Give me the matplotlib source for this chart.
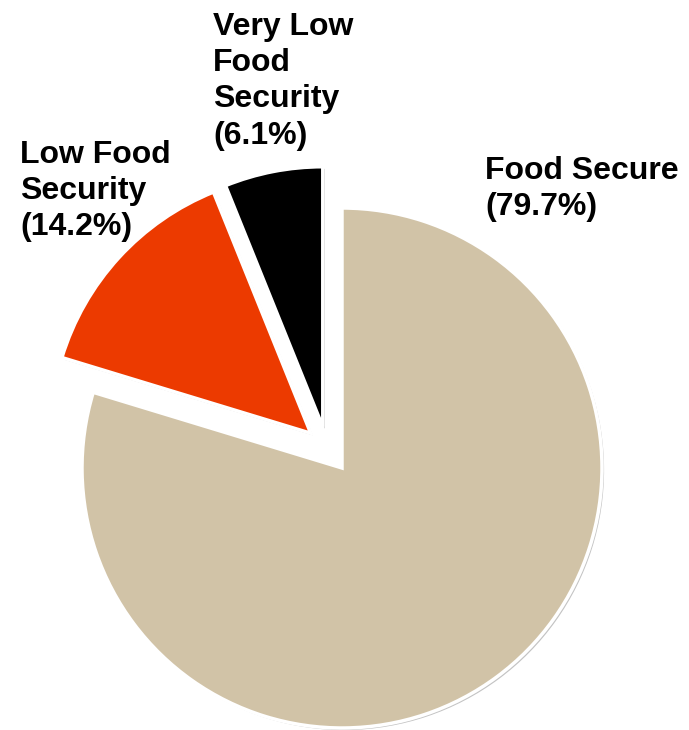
import matplotlib
matplotlib.use("Agg")
import numpy as np
import matplotlib.pyplot as plt
import matplotlib.patheffects as pe

categories = ["Food Secure", "Low Food\nSecurity", "Very Low\nFood\nSecurity"]
values = [79.7, 14.2, 6.1]
colors = ["#D1C3A7", "#EC3A00", "#000000"]

# slice offsets (fraction of radius, direction in degrees)
offset_dist = [0.0, 0.18, 0.175]
offset_dir = [0.0, 132.0, 115.0]

W, H = 689, 730
R = 260.0
cx, cy = 342, 468  # pixel center (from top-left)

fig = plt.figure(figsize=(W / 100, H / 100), dpi=100)
ax = fig.add_axes([0, 0, 1, 1])
wedges, _ = ax.pie(values, colors=colors, startangle=90,
                   counterclock=False, radius=1.0,
                   wedgeprops=dict(edgecolor="white", linewidth=2.5))
for w, d, a in zip(wedges, offset_dist, offset_dir):
    w.set_center((d * np.cos(np.radians(a)), d * np.sin(np.radians(a))))
    w.set_path_effects([pe.SimplePatchShadow(offset=(1.5, -1.5), shadow_rgbFace="#888888", alpha=0.5),
                        pe.Normal()])
ax.set_xlim(-cx / R, (W - cx) / R)
ax.set_ylim(-(H - cy) / R, cy / R)
ax.set_aspect("equal")
ax.axis("off")

font = dict(family=["Liberation Sans", "DejaVu Sans"], fontweight="bold", fontsize=23,
            color="black", ha="left", va="top", linespacing=1.27)
label_texts = [f"{c}\n({v}%)" for c, v in zip(categories, values)]
label_pos = [(485, 156), (20, 140), (213, 12)]
for t, (x, y) in zip(label_texts, label_pos):
    fig.text(x / W, 1 - y / H, t, **font)

fig.savefig("out.png", dpi=100)
